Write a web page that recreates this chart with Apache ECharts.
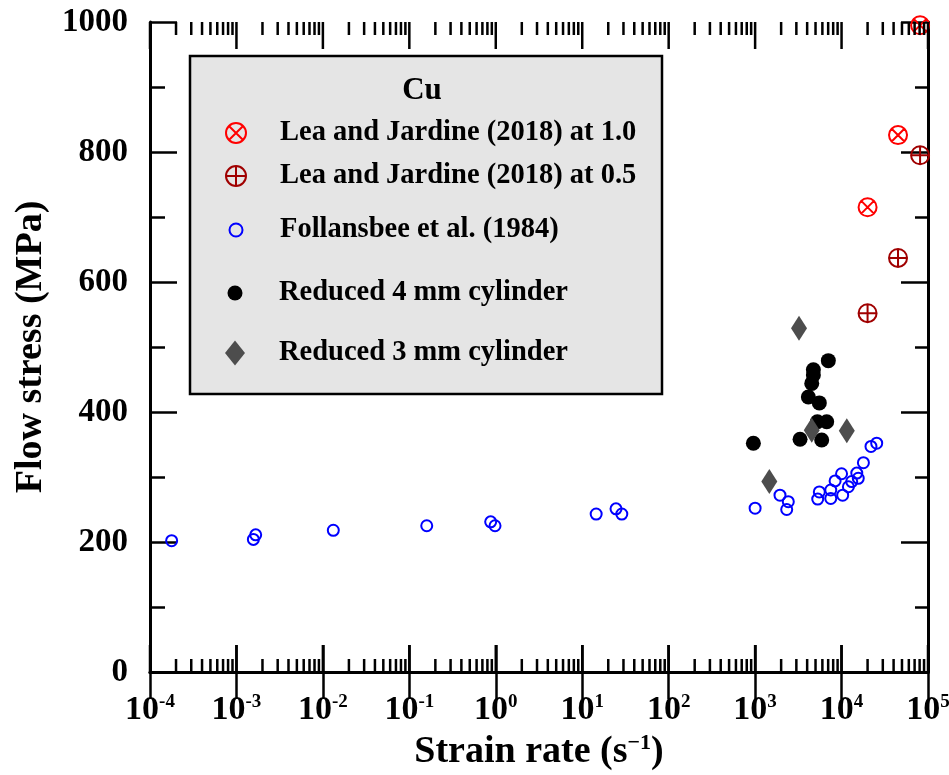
<!DOCTYPE html>
<html>
<head>
<meta charset="utf-8">
<script src="https://cdn.jsdelivr.net/npm/echarts@6/dist/echarts.min.js"></script>
<style>html,body{margin:0;padding:0;background:#fff}#c{width:949px;height:775px}</style>
</head>
<body>
<div id="c"></div>
<script>
// ---- data ----
const leaX = [2.0e4, 4.5e4, 8.1e4];
const lea10Y = [715, 826, 995];
const lea05Y = [552, 637, 795];

const follX = [1.78e-4, 1.57e-3, 1.67e-3, 1.32e-2, 0.159, 0.873, 0.98, 14.5, 24.6, 28.7,
  1000, 1940, 2420, 2320, 5530, 5300, 7500, 7500, 8420, 1.0e4,
  1.03e4, 1.2e4, 1.31e4, 1.5e4, 1.56e4, 1.79e4, 2.19e4, 2.55e4];
const follY = [202, 204, 211, 218, 225, 231, 225, 243, 251, 243,
  252, 272, 262, 250, 277, 266, 267, 280, 294, 305,
  272, 285, 293, 306, 298, 322, 347, 352];

const red4X = [955, 3310, 5890, 5250, 6730, 4130, 5530, 4520, 4720, 4720, 7030];
const red4Y = [352, 358, 357, 385, 385, 423, 414, 444, 457, 465, 479];

const red3X = [3220, 4520, 11500, 1460];
const red3Y = [529, 372, 371, 293];

const names = ['Lea and Jardine (2018) at 1.0', 'Lea and Jardine (2018) at 0.5',
  'Follansbee et al. (1984)', 'Reduced 4 mm cylinder', 'Reduced 3 mm cylinder'];
const legendTitle = 'Cu';
const xMin = 1e-4, xMax = 1e5;
const yMin = 0, yMax = 1000, yStep = 200;

// tick values of the log axis: decades (major) and 2..9 x each decade (minor)
const logTicks = [];
for (let e = -4; e <= 5; e++) {
  logTicks.push([Math.pow(10, e), yMin, 1]);
  if (e < 5) for (let m = 2; m <= 9; m++) logTicks.push([m * Math.pow(10, e), yMin, 0]);
}

const zip = (xs, ys) => xs.map((x, i) => [x, ys[i]]);
const FONT = '"Liberation Serif", "Times New Roman", serif';

const circ = 'M10,0 C10,5.523 5.523,10 0,10 C-5.523,10 -10,5.523 -10,0 C-10,-5.523 -5.523,-10 0,-10 C5.523,-10 10,-5.523 10,0 Z';
const crossSym = 'path://' + circ + ' M-7.07,-7.07 L7.07,7.07 M-7.07,7.07 L7.07,-7.07';
const plusSym = 'path://' + circ + ' M-10,0 L10,0 M0,-10 L0,10';
const diamSym = 'path://M0,-12.5 L10,0 L0,12.5 L-10,0 Z';

const chart = echarts.init(document.getElementById('c'), null, {renderer: 'canvas'});

const rows = [
  {name: names[0], cy: 133, w: 20, h: 20, bw: 2},
  {name: names[1], cy: 176, w: 20, h: 20, bw: 2},
  {name: names[2], cy: 230, w: 13, h: 13, bw: 2},
  {name: names[3], cy: 293, w: 15, h: 15, bw: 0},
  {name: names[4], cy: 353, w: 20, h: 25, bw: 0}
];
const legends = rows.map(r => ({
  data: [r.name],
  selectedMode: false,
  left: 235 - r.w / 2,
  top: r.cy - 15,
  padding: 0,
  itemWidth: r.w,
  itemHeight: r.h,
  itemStyle: {borderWidth: r.bw, opacity: 1},
  textStyle: {fontFamily: FONT, fontWeight: 'bold', fontSize: 28.5, color: '#000', lineHeight: 30,
    padding: [0, 0, 0, 39 - r.w / 2]}
}));

const axisLineStyle = {color: '#000', width: 3};
const tickStyle = {color: '#000', width: 2.5};

const option = {
  animation: false,
  backgroundColor: '#fff',
  grid: {left: 150, right: 21, top: 22, bottom: 103, containLabel: false, outerBoundsMode: 'none'},
  legend: legends,
  graphic: [
    {type: 'rect', z: 0, shape: {x: 190, y: 56, width: 472, height: 338},
      style: {fill: '#e5e5e5', stroke: '#000', lineWidth: 2.5}},
    {type: 'text', z: 5, x: 422, y: 91,
      style: {text: legendTitle, fontFamily: FONT, fontWeight: 'bold', fontSize: 31, fill: '#000',
        align: 'center', verticalAlign: 'middle'}}
  ],
  xAxis: [
    {
      type: 'log', min: xMin, max: xMax, splitNumber: 9, position: 'bottom',
      axisLine: {show: true, lineStyle: axisLineStyle},
      axisTick: {show: true, inside: true, length: 27, lineStyle: tickStyle},
      splitLine: {show: false},
      axisLabel: {
        margin: 21,
        formatter: v => '{a|10}{b|' + Math.round(Math.log10(v)) + '}',
        rich: {
          a: {fontFamily: FONT, fontWeight: 'bold', fontSize: 34, lineHeight: 34, color: '#000'},
          b: {fontFamily: FONT, fontWeight: 'bold', fontSize: 19, lineHeight: 19, color: '#000', verticalAlign: 'top'}
        }
      },
      name: 'Strain rate (s{s|\u22121})',
      nameLocation: 'middle', nameGap: 60,
      nameTextStyle: {
        fontFamily: FONT, fontWeight: 'bold', fontSize: 38, lineHeight: 40, color: '#000',
        rich: {s: {fontFamily: FONT, fontWeight: 'bold', fontSize: 22, lineHeight: 22, color: '#000', verticalAlign: 'top'}}
      }
    },
    {
      type: 'log', min: xMin, max: xMax, splitNumber: 9, position: 'top',
      axisLine: {show: true, lineStyle: axisLineStyle},
      axisTick: {show: true, inside: true, length: 27, lineStyle: tickStyle},
      axisLabel: {show: false}, splitLine: {show: false}
    }
  ],
  yAxis: [
    {
      type: 'value', min: yMin, max: yMax, interval: yStep, position: 'left',
      axisLine: {show: true, lineStyle: axisLineStyle},
      axisTick: {show: true, inside: true, length: 27, lineStyle: tickStyle},
      minorTick: {show: true, splitNumber: 2, length: 15, lineStyle: tickStyle},
      splitLine: {show: false},
      axisLabel: {margin: 22, fontFamily: FONT, fontWeight: 'bold', fontSize: 33, color: '#000',
        formatter: v => String(v)},
      name: 'Flow stress (MPa)', nameLocation: 'middle', nameGap: 88,
      nameTextStyle: {fontFamily: FONT, fontWeight: 'bold', fontSize: 38, lineHeight: 40, color: '#000'}
    },
    {
      type: 'value', min: yMin, max: yMax, interval: yStep, position: 'right',
      axisLine: {show: true, lineStyle: axisLineStyle},
      axisTick: {show: true, inside: true, length: 27, lineStyle: tickStyle},
      minorTick: {show: true, splitNumber: 2, length: 13, lineStyle: tickStyle},
      splitLine: {show: false}, axisLabel: {show: false}
    }
  ],
  series: [
    {
      type: 'custom', name: 'logTicks', silent: true, clip: false, z: 3,
      data: logTicks,
      renderItem: (params, api) => {
        const len = api.value(2) ? 27 : 13;
        const b = api.coord([api.value(0), yMin]);
        const t = api.coord([api.value(0), yMax]);
        return {type: 'group', children: [
          {type: 'line', shape: {x1: b[0], y1: b[1], x2: b[0], y2: b[1] - len}, style: {stroke: '#000', lineWidth: 2.5}},
          {type: 'line', shape: {x1: t[0], y1: t[1], x2: t[0], y2: t[1] + len}, style: {stroke: '#000', lineWidth: 2.5}}
        ]};
      }
    },
    {
      type: 'scatter', name: names[3], data: zip(red4X, red4Y),
      symbol: 'circle', symbolSize: 15, itemStyle: {color: '#000', opacity: 1}
    },
    {
      type: 'scatter', name: names[4], data: zip(red3X, red3Y),
      symbol: diamSym, symbolSize: [20, 25], symbolKeepAspect: true, itemStyle: {color: '#4d4d4d', opacity: 1}
    },
    {
      type: 'scatter', name: names[2], data: zip(follX, follY),
      symbol: 'circle', symbolSize: 11, itemStyle: {color: 'transparent', borderColor: '#0000ff', borderWidth: 2, opacity: 1}
    },
    {
      type: 'scatter', name: names[0], data: zip(leaX, lea10Y),
      symbol: crossSym, symbolSize: 18, symbolKeepAspect: true,
      itemStyle: {color: 'transparent', borderColor: '#ff0000', borderWidth: 2, opacity: 1}
    },
    {
      type: 'scatter', name: names[1], data: zip(leaX, lea05Y),
      symbol: plusSym, symbolSize: 18, symbolKeepAspect: true,
      itemStyle: {color: 'transparent', borderColor: '#a00000', borderWidth: 2, opacity: 1}
    }
  ]
};
chart.setOption(option);
</script>
</body>
</html>
